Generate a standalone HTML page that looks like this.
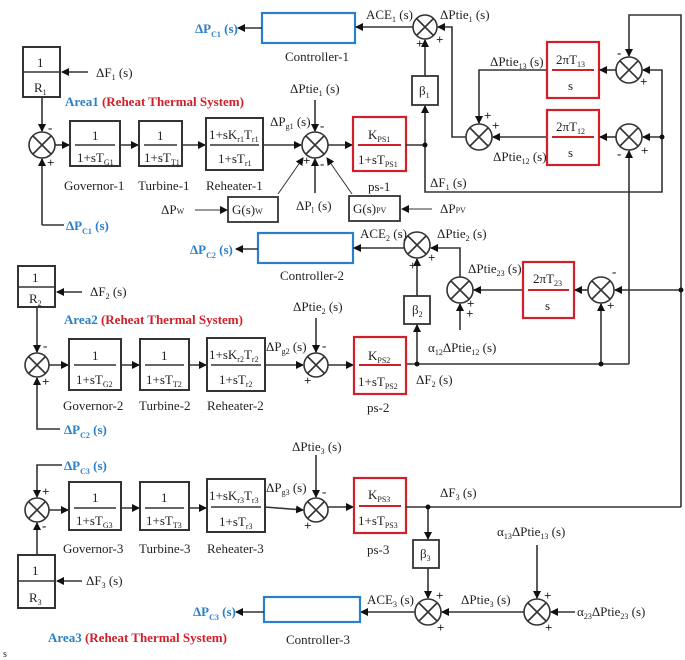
<!DOCTYPE html>
<html><head><meta charset="utf-8"><style>
html,body{margin:0;padding:0;background:#fff}
svg{display:block}
text{font-family:"Liberation Serif",serif;font-size:13px;fill:#222}
.s{font-size:8px}
.b{font-weight:bold;fill:#2a7fc8}
.r{font-weight:bold;fill:#d0202a}
.sg{font-size:10px;font-weight:bold}
</style></head><body>
<svg width="685" height="660" viewBox="0 0 685 660" xmlns="http://www.w3.org/2000/svg">
<defs><marker id="a" markerWidth="8" markerHeight="8" refX="7" refY="4" orient="auto" markerUnits="userSpaceOnUse"><path d="M0,0 L8,4 L0,8 z" fill="#111"/></marker></defs>
<g stroke="#333" stroke-width="1.6" fill="none">
<rect x="262" y="13" width="93" height="30" stroke="#2a7fc8" stroke-width="2.2"/>
<line x1="262" y1="28" x2="238" y2="28" marker-end="url(#a)"/>
<rect x="23" y="47" width="37" height="50" stroke-width="2"/>
<line x1="23" y1="72" x2="60" y2="72"/>
<line x1="88" y1="72" x2="62" y2="72" marker-end="url(#a)"/>
<line x1="42" y1="97" x2="42" y2="131" marker-end="url(#a)"/>
<circle cx="42" cy="145" r="13"/><path d="M33,136 L51,154 M51,136 L33,154"/>
<line x1="42" y1="225" x2="42" y2="159" marker-end="url(#a)"/><line x1="42" y1="225" x2="64" y2="225"/>
<line x1="55" y1="145" x2="69" y2="145" marker-end="url(#a)"/>
<rect x="70" y="121" width="50" height="45" stroke-width="2"/><line x1="75" y1="145" x2="115" y2="145"/>
<line x1="120" y1="145" x2="138" y2="145" marker-end="url(#a)"/>
<rect x="139" y="121" width="43" height="45" stroke-width="2"/><line x1="144" y1="145" x2="177" y2="145"/>
<line x1="182" y1="145" x2="205" y2="145" marker-end="url(#a)"/>
<rect x="206" y="118" width="57" height="52" stroke-width="2"/><line x1="210" y1="145" x2="259" y2="145"/>
<line x1="263" y1="145" x2="301" y2="145" marker-end="url(#a)"/>
<circle cx="315" cy="145" r="13"/><path d="M306,136 L324,154 M324,136 L306,154"/>
<line x1="315" y1="100" x2="315" y2="131" marker-end="url(#a)"/>
<line x1="315" y1="193" x2="315" y2="159" marker-end="url(#a)"/>
<line x1="278" y1="194" x2="303" y2="158" marker-end="url(#a)" stroke-width="1"/>
<line x1="352" y1="194" x2="327" y2="158" marker-end="url(#a)" stroke-width="1"/>
<rect x="228" y="197" width="50" height="25" stroke-width="1.8"/>
<line x1="195" y1="210" x2="227" y2="210" marker-end="url(#a)" stroke-width="1"/>
<rect x="349" y="196" width="51" height="25" stroke-width="1.8"/>
<line x1="432" y1="209" x2="402" y2="209" marker-end="url(#a)" stroke-width="1"/>
<line x1="328" y1="145" x2="352" y2="145" marker-end="url(#a)"/>
<rect x="353" y="117" width="53" height="54" stroke="#d0202a" stroke-width="2.2"/><line x1="358" y1="145" x2="401" y2="145" stroke="#d0202a" stroke-width="2"/>
<line x1="406" y1="145" x2="425" y2="145"/>
<line x1="425" y1="145" x2="425" y2="106" marker-end="url(#a)"/>
<rect x="412" y="76" width="26" height="29" stroke-width="1.8"/>
<line x1="425" y1="76" x2="425" y2="40" marker-end="url(#a)"/>
<circle cx="425" cy="27" r="12"/><path d="M417,19 L433,35 M433,19 L417,35"/>
<line x1="413" y1="27" x2="356" y2="27" marker-end="url(#a)"/>
<path d="M466,137 L452,137 L452,27 L438,27" marker-end="url(#a)"/>
<circle cx="479" cy="137" r="13"/><path d="M470,128 L488,146 M488,128 L470,146"/>
<path d="M547,70 L479,70 L479,123" marker-end="url(#a)"/>
<line x1="547" y1="137" x2="493" y2="137" marker-end="url(#a)"/>
<rect x="547" y="42" width="52" height="56" stroke="#d0202a" stroke-width="2.2"/><line x1="552" y1="70" x2="594" y2="70" stroke="#d0202a" stroke-width="2"/>
<rect x="547" y="110" width="52" height="55" stroke="#d0202a" stroke-width="2.2"/><line x1="552" y1="137" x2="594" y2="137" stroke="#d0202a" stroke-width="2"/>
<circle cx="629" cy="70" r="13"/><path d="M620,61 L638,79 M638,61 L620,79"/>
<circle cx="629" cy="137" r="13"/><path d="M620,128 L638,146 M638,128 L620,146"/>
<line x1="616" y1="70" x2="600" y2="70" marker-end="url(#a)"/>
<line x1="616" y1="137" x2="600" y2="137" marker-end="url(#a)"/>
<path d="M425,145 L425,192 L662,192 L662,70 L643,70" marker-end="url(#a)"/>
<line x1="662" y1="137" x2="643" y2="137" marker-end="url(#a)"/>
<path d="M681,507 L681,15 L629,15 L629,56" marker-end="url(#a)"/>
<line x1="629" y1="364" x2="629" y2="151" marker-end="url(#a)"/>
<rect x="258" y="233" width="95" height="30" stroke="#2a7fc8" stroke-width="2.2"/>
<line x1="258" y1="249" x2="236" y2="249" marker-end="url(#a)"/>
<circle cx="417" cy="245" r="13"/><path d="M408,236 L426,254 M426,236 L408,254"/>
<line x1="404" y1="248" x2="354" y2="248" marker-end="url(#a)"/>
<path d="M460,277 L460,248 L431,248" marker-end="url(#a)"/>
<circle cx="460" cy="290" r="13"/><path d="M451,281 L469,299 M469,281 L451,299"/>
<line x1="523" y1="290" x2="474" y2="290" marker-end="url(#a)"/>
<line x1="460" y1="330" x2="460" y2="304" marker-end="url(#a)"/>
<rect x="523" y="262" width="51" height="56" stroke="#d0202a" stroke-width="2.2"/><line x1="528" y1="290" x2="569" y2="290" stroke="#d0202a" stroke-width="2"/>
<circle cx="601" cy="290" r="13"/><path d="M592,281 L610,299 M610,281 L592,299"/>
<line x1="588" y1="290" x2="575" y2="290" marker-end="url(#a)"/>
<line x1="681" y1="290" x2="615" y2="290" marker-end="url(#a)"/>
<line x1="601" y1="364" x2="601" y2="304" marker-end="url(#a)"/>
<rect x="404" y="296" width="26" height="28" stroke-width="1.8"/>
<line x1="417" y1="364" x2="417" y2="325" marker-end="url(#a)"/>
<line x1="417" y1="296" x2="417" y2="259" marker-end="url(#a)"/>
<line x1="406" y1="364" x2="629" y2="364"/>
<rect x="18" y="266" width="37" height="41" stroke-width="2"/><line x1="18" y1="287" x2="55" y2="287"/>
<line x1="82" y1="292" x2="57" y2="292" marker-end="url(#a)"/>
<line x1="37" y1="307" x2="37" y2="352" marker-end="url(#a)"/>
<circle cx="37" cy="365" r="12"/><path d="M29,357 L45,373 M45,357 L29,373"/>
<path d="M60,429 L37,429 L37,378" marker-end="url(#a)"/>
<line x1="49" y1="365" x2="68" y2="365" marker-end="url(#a)"/>
<rect x="69" y="339" width="52" height="51" stroke-width="2"/><line x1="74" y1="365" x2="116" y2="365"/>
<line x1="121" y1="365" x2="139" y2="365" marker-end="url(#a)"/>
<rect x="140" y="339" width="49" height="51" stroke-width="2"/><line x1="145" y1="365" x2="184" y2="365"/>
<line x1="189" y1="365" x2="206" y2="365" marker-end="url(#a)"/>
<rect x="207" y="338" width="58" height="53" stroke-width="2"/><line x1="211" y1="365" x2="261" y2="365"/>
<line x1="265" y1="365" x2="303" y2="365" marker-end="url(#a)"/>
<circle cx="316" cy="365" r="12"/><path d="M308,357 L324,373 M324,357 L308,373"/>
<line x1="316" y1="318" x2="316" y2="352" marker-end="url(#a)"/>
<line x1="328" y1="365" x2="353" y2="365" marker-end="url(#a)"/>
<rect x="354" y="337" width="52" height="57" stroke="#d0202a" stroke-width="2.2"/><line x1="359" y1="365" x2="401" y2="365" stroke="#d0202a" stroke-width="2"/>
<line x1="316" y1="455" x2="316" y2="497" marker-end="url(#a)"/>
<path d="M62,465 L37,465 L37,497" marker-end="url(#a)"/>
<circle cx="37" cy="510" r="12"/><path d="M29,502 L45,518 M45,502 L29,518"/>
<line x1="37" y1="555" x2="37" y2="523" marker-end="url(#a)"/>
<rect x="18" y="555" width="37" height="53" stroke-width="2"/><line x1="18" y1="581" x2="55" y2="581"/>
<line x1="82" y1="581" x2="57" y2="581" marker-end="url(#a)"/>
<line x1="49" y1="510" x2="68" y2="510" marker-end="url(#a)"/>
<rect x="69" y="482" width="52" height="48" stroke-width="2"/><line x1="74" y1="508" x2="116" y2="508"/>
<line x1="121" y1="508" x2="139" y2="508" marker-end="url(#a)"/>
<rect x="140" y="482" width="49" height="48" stroke-width="2"/><line x1="145" y1="508" x2="184" y2="508"/>
<line x1="189" y1="508" x2="206" y2="508" marker-end="url(#a)"/>
<rect x="207" y="479" width="58" height="53" stroke-width="2"/><line x1="211" y1="507" x2="261" y2="507"/>
<line x1="265" y1="507" x2="303" y2="510" marker-end="url(#a)"/>
<circle cx="316" cy="510" r="12"/><path d="M308,502 L324,518 M324,502 L308,518"/>
<line x1="328" y1="507" x2="353" y2="507" marker-end="url(#a)"/>
<rect x="354" y="478" width="52" height="55" stroke="#d0202a" stroke-width="2.2"/><line x1="359" y1="506" x2="401" y2="506" stroke="#d0202a" stroke-width="2"/>
<line x1="406" y1="507" x2="681" y2="507"/>
<line x1="428" y1="507" x2="428" y2="539" marker-end="url(#a)"/>
<rect x="413" y="540" width="26" height="28" stroke-width="1.8"/>
<line x1="428" y1="568" x2="428" y2="598" marker-end="url(#a)"/>
<circle cx="428" cy="612" r="13"/><path d="M419,603 L437,621 M437,603 L419,621"/>
<line x1="415" y1="612" x2="361" y2="612" marker-end="url(#a)"/>
<rect x="264" y="597" width="96" height="25" stroke="#2a7fc8" stroke-width="2.2"/>
<line x1="264" y1="612" x2="236" y2="612" marker-end="url(#a)"/>
<circle cx="537" cy="612" r="13"/><path d="M528,603 L546,621 M546,603 L528,621"/>
<line x1="524" y1="612" x2="442" y2="612" marker-end="url(#a)"/>
<line x1="537" y1="545" x2="537" y2="598" marker-end="url(#a)"/>
<line x1="575" y1="612" x2="551" y2="612" marker-end="url(#a)"/>
</g>
<g fill="#111">
<circle cx="425" cy="145" r="2.5"/><circle cx="662" cy="137" r="2.5"/>
<circle cx="417" cy="364" r="2.5"/><circle cx="601" cy="364" r="2.5"/><circle cx="681" cy="290" r="2.5"/>
<circle cx="428" cy="507" r="2.5"/>
</g>
<text x="195" y="33" class="b">ΔP<tspan class="s" dy="4">C1</tspan><tspan dy="-4"> (s)</tspan></text>
<text x="285" y="61">Controller-1</text>
<text x="366" y="19">ACE<tspan class="s" dy="3">1</tspan><tspan dy="-3"> (s)</tspan></text>
<text x="440" y="19">ΔPtie<tspan class="s" dy="3">1</tspan><tspan dy="-3"> (s)</tspan></text>
<text x="37" y="67">1</text><text x="34" y="92">R<tspan class="s" dy="3">1</tspan></text>
<text x="96" y="77">ΔF<tspan class="s" dy="3">1</tspan><tspan dy="-3"> (s)</tspan></text>
<text x="65" y="106" class="b">Area1 <tspan fill="#d0202a">(Reheat Thermal System)</tspan></text>
<text x="92" y="140">1</text><text x="77" y="162">1+sT<tspan class="s" dy="3">G1</tspan></text>
<text x="157" y="140">1</text><text x="144" y="162">1+sT<tspan class="s" dy="3">T1</tspan></text>
<text x="209" y="139">1+sK<tspan class="s" dy="3">r1</tspan><tspan dy="-3">T</tspan><tspan class="s" dy="3">r1</tspan></text>
<text x="218" y="163">1+sT<tspan class="s" dy="3">r1</tspan></text>
<text x="64" y="190">Governor-1</text><text x="138" y="190">Turbine-1</text><text x="206" y="190">Reheater-1</text>
<text x="290" y="93">ΔPtie<tspan class="s" dy="3">1</tspan><tspan dy="-3"> (s)</tspan></text>
<text x="270" y="126">ΔP<tspan class="s" dy="3">g1</tspan><tspan dy="-3"> (s)</tspan></text>
<text x="296" y="210">ΔP<tspan class="s" dy="3">l</tspan><tspan dx="4" dy="-3">(s)</tspan></text>
<text x="161" y="214">ΔP<tspan class="s">W</tspan></text>
<text x="232" y="214">G(s)<tspan class="s">W</tspan></text>
<text x="353" y="213">G(s)<tspan class="s">PV</tspan></text>
<text x="440" y="213">ΔP<tspan class="s">PV</tspan></text>
<text x="368" y="139">K<tspan class="s" dy="3">PS1</tspan></text>
<text x="358" y="164">1+sT<tspan class="s" dy="3">PS1</tspan></text>
<text x="368" y="191">ps-1</text>
<text x="419" y="95">β<tspan class="s" dy="3">1</tspan></text>
<text x="430" y="187">ΔF<tspan class="s" dy="3">1</tspan><tspan dy="-3"> (s)</tspan></text>
<text x="490" y="66">ΔPtie<tspan class="s" dy="3">13</tspan><tspan dy="-3"> (s)</tspan></text>
<text x="493" y="161">ΔPtie<tspan class="s" dy="3">12</tspan><tspan dy="-3"> (s)</tspan></text>
<text x="556" y="64">2πT<tspan class="s" dy="3">13</tspan></text><text x="568" y="90">s</text>
<text x="556" y="131">2πT<tspan class="s" dy="3">12</tspan></text><text x="568" y="157">s</text>
<text x="66" y="230" class="b">ΔP<tspan class="s" dy="4">C1</tspan><tspan dy="-4"> (s)</tspan></text>
<text x="190" y="254" class="b">ΔP<tspan class="s" dy="4">C2</tspan><tspan dy="-4"> (s)</tspan></text>
<text x="280" y="280">Controller-2</text>
<text x="360" y="238">ACE<tspan class="s" dy="3">2</tspan><tspan dy="-3"> (s)</tspan></text>
<text x="437" y="238">ΔPtie<tspan class="s" dy="3">2</tspan><tspan dy="-3"> (s)</tspan></text>
<text x="468" y="273">ΔPtie<tspan class="s" dy="3">23</tspan><tspan dy="-3"> (s)</tspan></text>
<text x="533" y="283">2πT<tspan class="s" dy="3">23</tspan></text><text x="545" y="310">s</text>
<text x="412" y="314">β<tspan class="s" dy="3">2</tspan></text>
<text x="428" y="352">α<tspan class="s" dy="3">12</tspan><tspan dy="-3">ΔPtie</tspan><tspan class="s" dy="3">12</tspan><tspan dy="-3"> (s)</tspan></text>
<text x="32" y="282">1</text><text x="29" y="303">R<tspan class="s" dy="3">2</tspan></text>
<text x="90" y="296">ΔF<tspan class="s" dy="3">2</tspan><tspan dy="-3"> (s)</tspan></text>
<text x="64" y="324" class="b">Area2 <tspan fill="#d0202a">(Reheat Thermal System)</tspan></text>
<text x="92" y="360">1</text><text x="76" y="384">1+sT<tspan class="s" dy="3">G2</tspan></text>
<text x="161" y="360">1</text><text x="146" y="384">1+sT<tspan class="s" dy="3">T2</tspan></text>
<text x="209" y="359">1+sK<tspan class="s" dy="3">r2</tspan><tspan dy="-3">T</tspan><tspan class="s" dy="3">r2</tspan></text>
<text x="219" y="384">1+sT<tspan class="s" dy="3">r2</tspan></text>
<text x="63" y="410">Governor-2</text><text x="139" y="410">Turbine-2</text><text x="207" y="410">Reheater-2</text>
<text x="293" y="311">ΔPtie<tspan class="s" dy="3">2</tspan><tspan dy="-3"> (s)</tspan></text>
<text x="266" y="351">ΔP<tspan class="s" dy="3">g2</tspan><tspan dy="-3"> (s)</tspan></text>
<text x="368" y="360">K<tspan class="s" dy="3">PS2</tspan></text>
<text x="358" y="386">1+sT<tspan class="s" dy="3">PS2</tspan></text>
<text x="367" y="412">ps-2</text>
<text x="416" y="384">ΔF<tspan class="s" dy="3">2</tspan><tspan dy="-3"> (s)</tspan></text>
<text x="64" y="434" class="b">ΔP<tspan class="s" dy="4">C2</tspan><tspan dy="-4"> (s)</tspan></text>
<text x="292" y="451">ΔPtie<tspan class="s" dy="3">3</tspan><tspan dy="-3"> (s)</tspan></text>
<text x="64" y="470" class="b">ΔP<tspan class="s" dy="4">C3</tspan><tspan dy="-4"> (s)</tspan></text>
<text x="92" y="502">1</text><text x="76" y="525">1+sT<tspan class="s" dy="3">G3</tspan></text>
<text x="161" y="502">1</text><text x="146" y="525">1+sT<tspan class="s" dy="3">T3</tspan></text>
<text x="209" y="500">1+sK<tspan class="s" dy="3">r3</tspan><tspan dy="-3">T</tspan><tspan class="s" dy="3">r3</tspan></text>
<text x="219" y="526">1+sT<tspan class="s" dy="3">r3</tspan></text>
<text x="63" y="553">Governor-3</text><text x="139" y="553">Turbine-3</text><text x="207" y="553">Reheater-3</text>
<text x="266" y="492">ΔP<tspan class="s" dy="3">g3</tspan><tspan dy="-3"> (s)</tspan></text>
<text x="368" y="499">K<tspan class="s" dy="3">PS3</tspan></text>
<text x="358" y="525">1+sT<tspan class="s" dy="3">PS3</tspan></text>
<text x="367" y="554">ps-3</text>
<text x="440" y="497">ΔF<tspan class="s" dy="3">3</tspan><tspan dy="-3"> (s)</tspan></text>
<text x="420" y="558">β<tspan class="s" dy="3">3</tspan></text>
<text x="497" y="536">α<tspan class="s" dy="3">13</tspan><tspan dy="-3">ΔPtie</tspan><tspan class="s" dy="3">13</tspan><tspan dy="-3"> (s)</tspan></text>
<text x="577" y="616">α<tspan class="s" dy="3">23</tspan><tspan dy="-3">ΔPtie</tspan><tspan class="s" dy="3">23</tspan><tspan dy="-3"> (s)</tspan></text>
<text x="461" y="604">ΔPtie<tspan class="s" dy="3">3</tspan><tspan dy="-3"> (s)</tspan></text>
<text x="367" y="604">ACE<tspan class="s" dy="3">3</tspan><tspan dy="-3"> (s)</tspan></text>
<text x="193" y="616" class="b">ΔP<tspan class="s" dy="4">C3</tspan><tspan dy="-4"> (s)</tspan></text>
<text x="286" y="644">Controller-3</text>
<text x="32" y="575">1</text><text x="29" y="602">R<tspan class="s" dy="3">3</tspan></text>
<text x="86" y="585">ΔF<tspan class="s" dy="3">3</tspan><tspan dy="-3"> (s)</tspan></text>
<text x="48" y="642" class="b">Area3 <tspan fill="#d0202a">(Reheat Thermal System)</tspan></text>
<text x="3" y="657" style="font-size:10px">s</text>
<g class="sg">
<text x="48" y="132">-</text><text x="47" y="167">+</text>
<text x="320" y="130">-</text><text x="320" y="168">-</text><text x="303" y="165">+</text>
<text x="416" y="48">+</text><text x="436" y="44">+</text>
<text x="484" y="120">+</text><text x="492" y="130">+</text>
<text x="617" y="57">-</text><text x="640" y="86">+</text>
<text x="617" y="158">-</text><text x="641" y="155">+</text>
<text x="43" y="350">-</text><text x="42" y="386">+</text>
<text x="322" y="350">-</text><text x="304" y="385">+</text>
<text x="409" y="270">+</text><text x="428" y="262">+</text>
<text x="467" y="308">+</text><text x="466" y="318">+</text>
<text x="612" y="276">-</text><text x="607" y="310">+</text>
<text x="42" y="496">+</text><text x="42" y="530">-</text>
<text x="322" y="496">-</text><text x="304" y="530">+</text>
<text x="436" y="600">+</text><text x="437" y="632">+</text>
<text x="544" y="600">+</text><text x="545" y="632">+</text>
</g>
</svg>
</body></html>
